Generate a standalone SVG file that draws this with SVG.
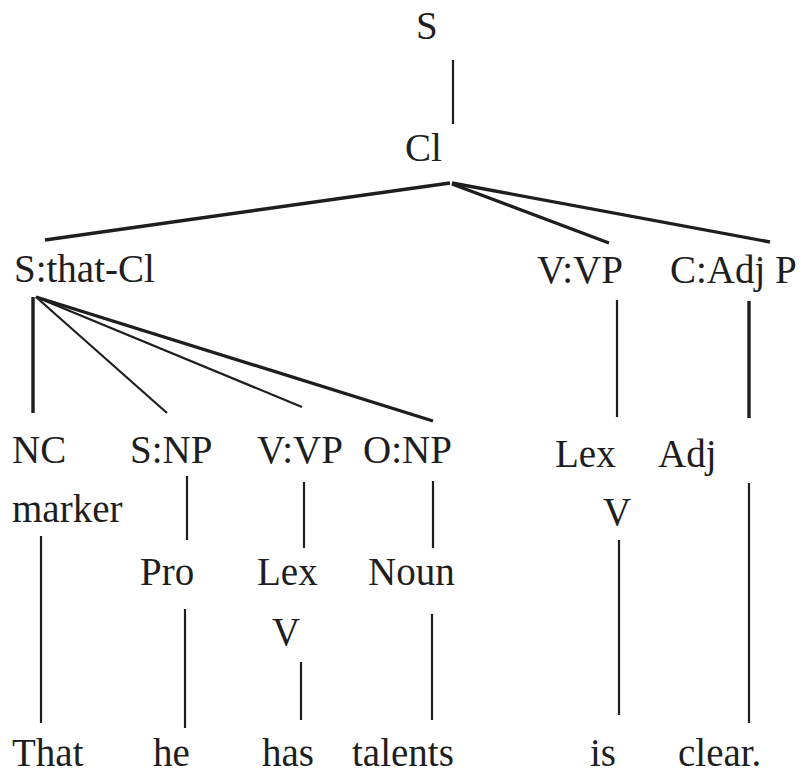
<svg xmlns="http://www.w3.org/2000/svg" width="801" height="773" viewBox="0 0 801 773">
<defs>
<style>
.e{stroke:#1e1e1e;stroke-width:2.2;fill:none}
.t{stroke-width:3.4}
.lbl{font-family:'Liberation Serif',serif;font-size:39px;fill:#1e1e1e}
</style>
</defs>
<rect width="801" height="773" fill="#ffffff"/>
<g id="connectors">
<line class="e" x1="453" y1="60" x2="453" y2="124"/>
<line class="e t" x1="450" y1="183" x2="45" y2="240"/>
<line class="e t" x1="452" y1="184" x2="609" y2="243"/>
<line class="e t" x1="452" y1="183" x2="770" y2="242"/>
<line class="e t" x1="33" y1="297" x2="33" y2="413"/>
<line class="e" x1="36" y1="297" x2="167" y2="413"/>
<line class="e" x1="36" y1="297" x2="302" y2="407"/>
<line class="e t" x1="36" y1="297" x2="433" y2="421"/>
<line class="e" x1="617" y1="300" x2="617" y2="417"/>
<line class="e t" x1="749" y1="301" x2="749" y2="418"/>
<line class="e" x1="187" y1="476" x2="187" y2="540"/>
<line class="e" x1="304" y1="482" x2="304" y2="548"/>
<line class="e" x1="433" y1="481" x2="433" y2="548"/>
<line class="e" x1="41" y1="536" x2="41" y2="723"/>
<line class="e" x1="185" y1="609" x2="185" y2="728"/>
<line class="e" x1="301" y1="662" x2="301" y2="720"/>
<line class="e" x1="432" y1="614" x2="432" y2="720"/>
<line class="e" x1="619" y1="540" x2="619" y2="715"/>
<line class="e" x1="749" y1="483" x2="749" y2="723"/>
</g>
<g id="n-S"><text class="lbl" font-family="Liberation Serif" x="416" y="39">S</text></g>
<g id="n-Cl"><text class="lbl" font-family="Liberation Serif" x="405" y="161">Cl</text></g>
<g id="n-SthatCl"><text class="lbl" font-family="Liberation Serif" x="14" y="282">S:that-Cl</text></g>
<g id="n-VVP1"><text class="lbl" font-family="Liberation Serif" x="537" y="283">V:VP</text></g>
<g id="n-CAdjP"><text class="lbl" font-family="Liberation Serif" x="670" y="283">C:Adj P</text></g>
<g id="n-NC"><text class="lbl" font-family="Liberation Serif" x="12" y="463">NC</text><text class="lbl" font-family="Liberation Serif" x="12" y="522">marker</text></g>
<g id="n-SNP"><text class="lbl" font-family="Liberation Serif" x="130" y="463">S:NP</text></g>
<g id="n-VVP2"><text class="lbl" font-family="Liberation Serif" x="257" y="463">V:VP</text></g>
<g id="n-ONP"><text class="lbl" font-family="Liberation Serif" x="363" y="463">O:NP</text></g>
<g id="n-LexV1"><text class="lbl" font-family="Liberation Serif" x="555" y="467">Lex</text><text class="lbl" font-family="Liberation Serif" x="603" y="525">V</text></g>
<g id="n-Adj"><text class="lbl" font-family="Liberation Serif" x="658" y="467">Adj</text></g>
<g id="n-Pro"><text class="lbl" font-family="Liberation Serif" x="140" y="585">Pro</text></g>
<g id="n-LexV2"><text class="lbl" font-family="Liberation Serif" x="257" y="585">Lex</text><text class="lbl" font-family="Liberation Serif" x="272" y="645">V</text></g>
<g id="n-Noun"><text class="lbl" font-family="Liberation Serif" x="368" y="585">Noun</text></g>
<g id="w-That"><text class="lbl" font-family="Liberation Serif" x="12" y="766">That</text></g>
<g id="w-he"><text class="lbl" font-family="Liberation Serif" x="153" y="766">he</text></g>
<g id="w-has"><text class="lbl" font-family="Liberation Serif" x="262" y="766">has</text></g>
<g id="w-talents"><text class="lbl" font-family="Liberation Serif" x="352" y="766">talents</text></g>
<g id="w-is"><text class="lbl" font-family="Liberation Serif" x="590" y="766">is</text></g>
<g id="w-clear"><text class="lbl" font-family="Liberation Serif" x="678" y="766">clear.</text></g>
</svg>
